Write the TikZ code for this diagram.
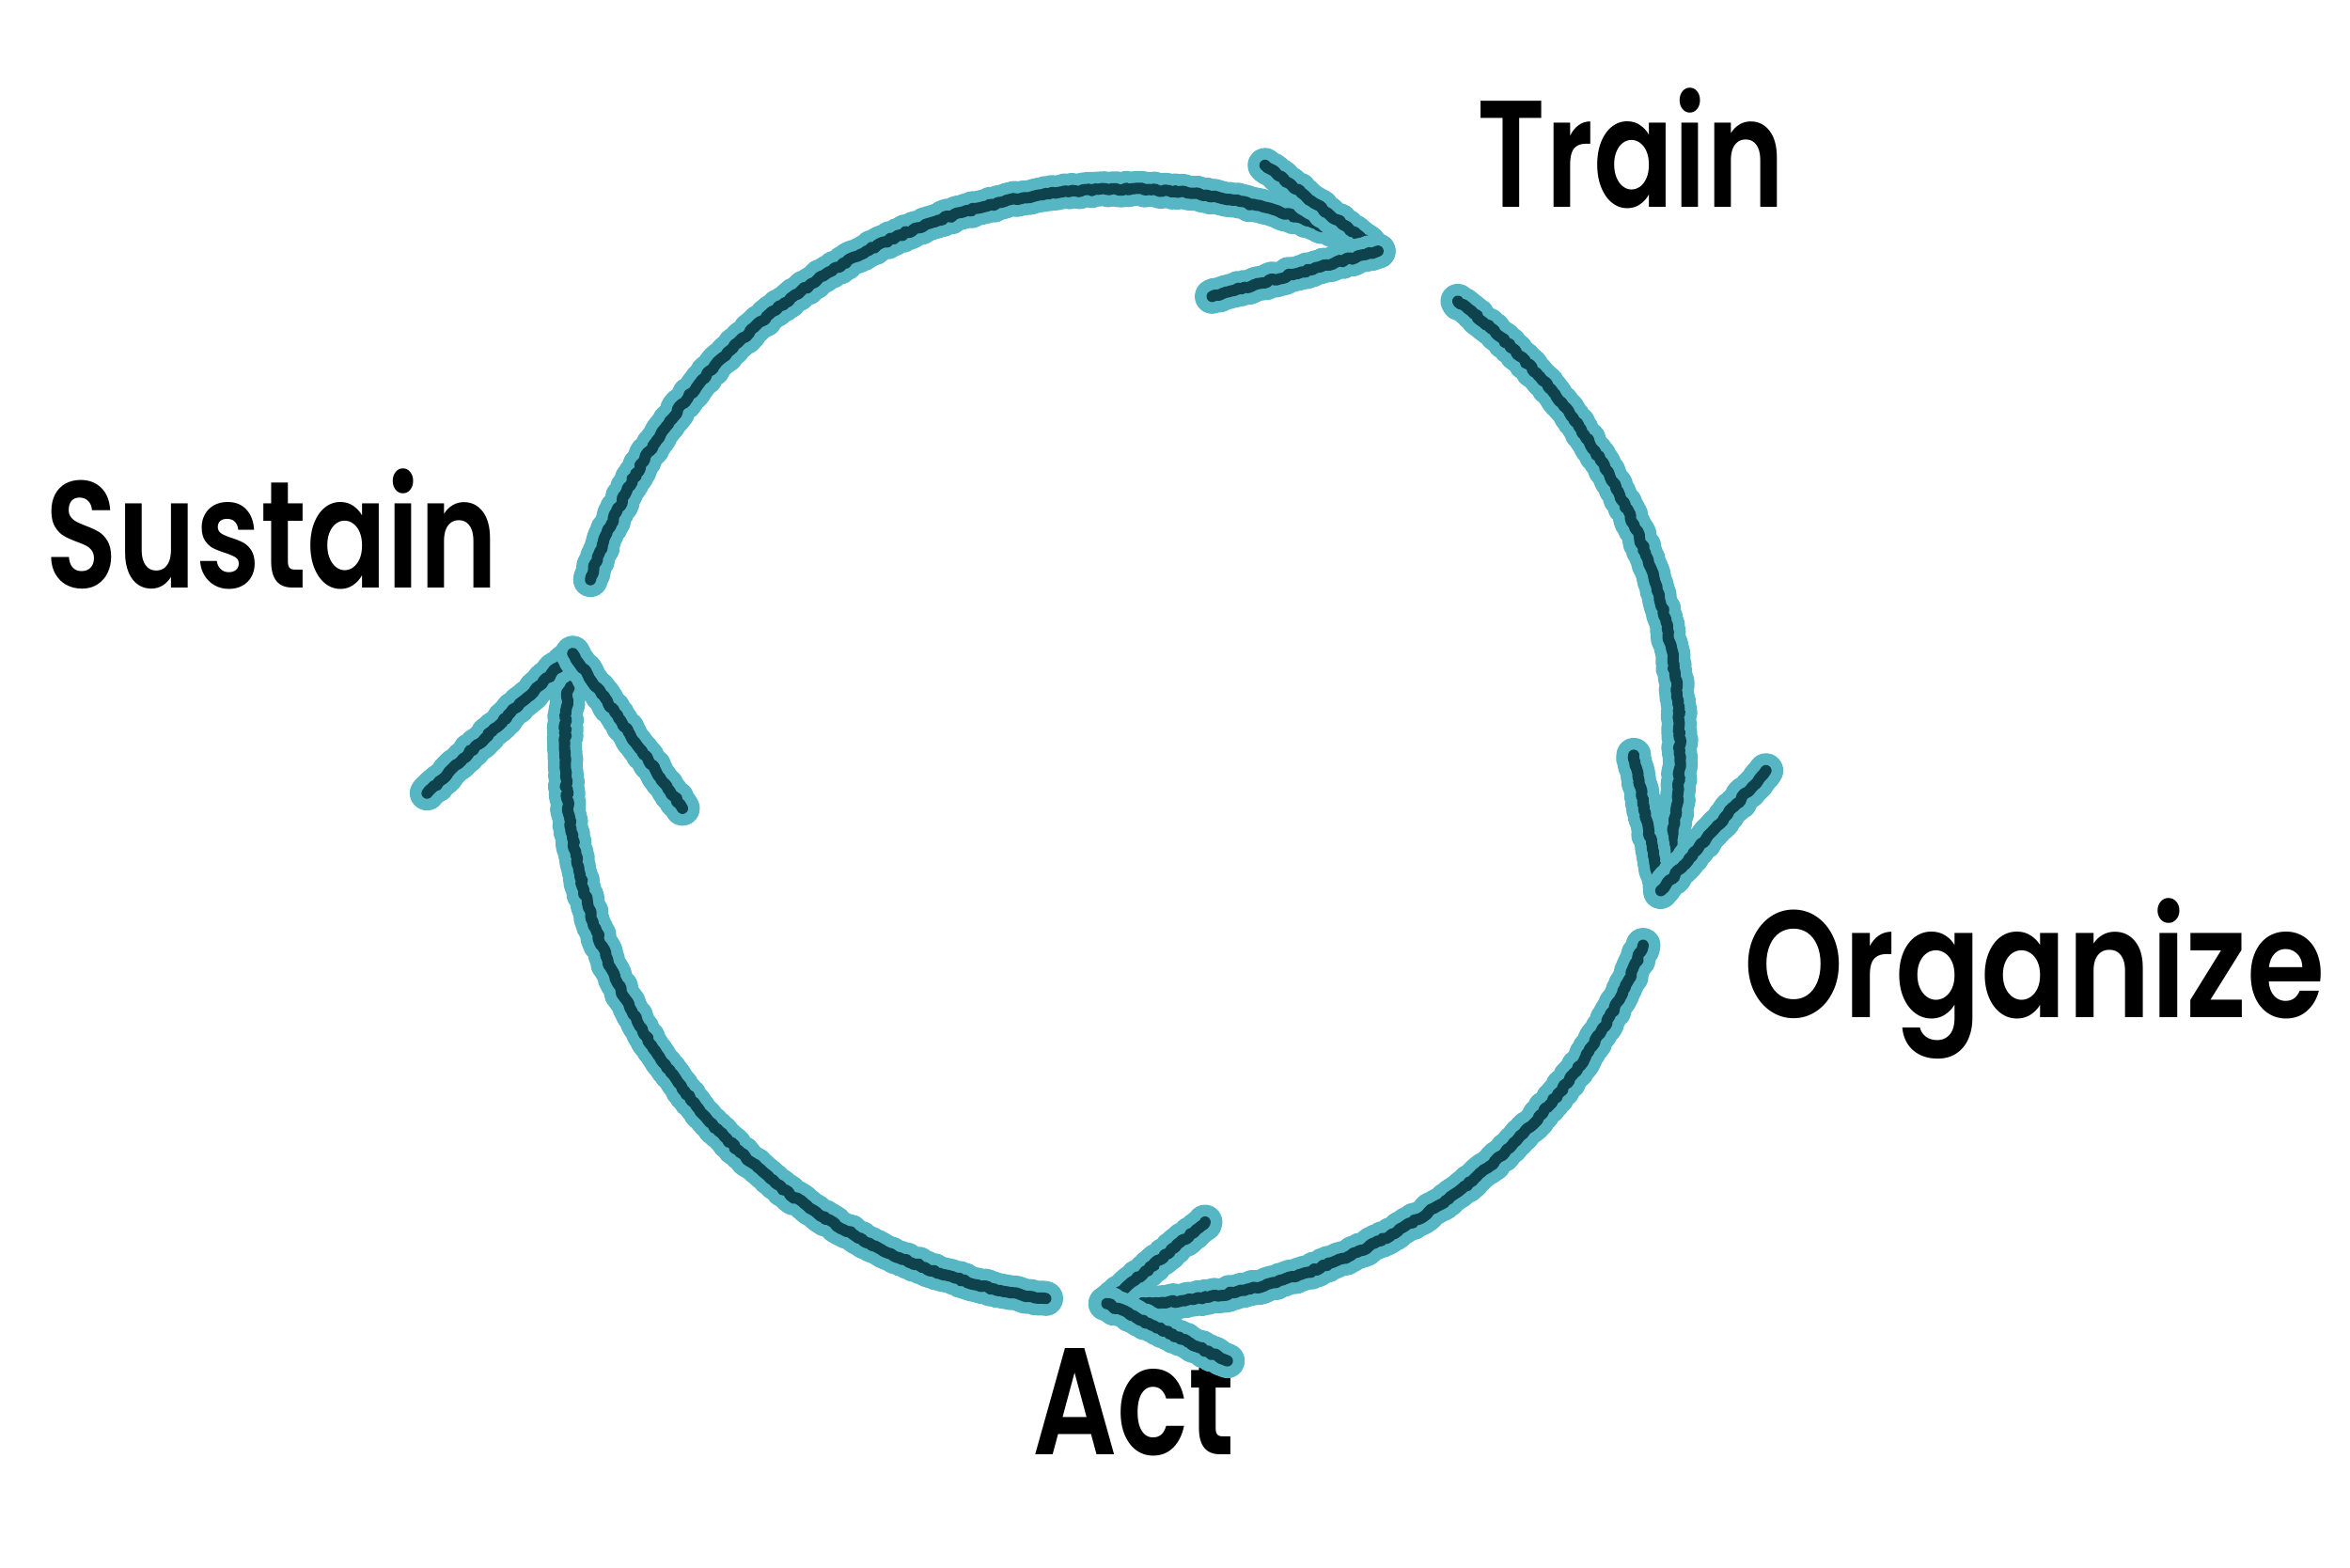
\documentclass[tikz,border=0pt]{standalone}
\usepackage{fontspec}
\setmainfont{Poppins}[BoldFont={Poppins SemiBold}]
\usetikzlibrary{decorations.pathmorphing}

\definecolor{crayonlight}{RGB}{86,182,196}
\definecolor{crayondark}{RGB}{14,66,76}

\tikzset{
  stepname/.style={font=\bfseries\fontsize{46}{46}\selectfont, anchor=base west,
    inner sep=0pt, xscale=0.78},
  crayon/.style={draw=crayondark, line width=3.4pt, line cap=round, line join=round,
    decorate, decoration={random steps, segment length=1pt, amplitude=0.35pt},
    preaction={draw=crayonlight, line width=10.5pt, line cap=round, line join=round}},
}

\begin{document}
\begin{tikzpicture}
\pgfmathsetseed{7}
\useasboundingbox (0,0) rectangle (25,16.67);

\coordinate (O) at (11.94,8.73);

\node[stepname] (train) at (15.71,14.46) {Train};
\node[stepname] (sustain) at (0.48,10.42) {Sustain};
\node[stepname, xscale=1.07] (organize) at (18.55,5.85) {Organize};
\node[stepname] (act) at (10.98,1.20) {Act};

% start of each arc
\path (O) ++(162.6:5.93) coordinate (topS);
\path (O) ++(53:5.93) coordinate (rightS);
\path (O) ++(-20.9:5.93) coordinate (botS);
\path (O) ++(-97.9:5.93) coordinate (leftS);

% Sustain -> Train
\draw[crayon] (topS) arc[start angle=162.6, end angle=62.7, radius=5.93] coordinate (topT);
\draw[crayon] (topT) -- ++(142.8:1.51);
\draw[crayon] (topT) -- ++(195.3:1.83);

% Train -> Organize
\draw[crayon] (rightS) arc[start angle=53, end angle=-15, radius=5.93] coordinate (rightT);
\draw[crayon] (rightT) -- ++(101.3:1.47);
\draw[crayon] (rightT) -- ++(48.8:1.70);

% Organize -> Act
\draw[crayon] (botS) arc[start angle=-20.9, end angle=-91.6, radius=5.93] coordinate (botT);
\draw[crayon] (botT) -- ++(39.7:1.36);
\draw[crayon] (botT) -- ++(-25.4:1.42);

% Act -> Sustain
\draw[crayon] (leftS) arc[start angle=-97.9, end angle=-189.6, radius=5.93] coordinate (leftT);
\draw[crayon] (leftT) -- ++(223.8:2.15);
\draw[crayon] (leftT) -- ++(305.3:2.02);

\end{tikzpicture}
\end{document}
